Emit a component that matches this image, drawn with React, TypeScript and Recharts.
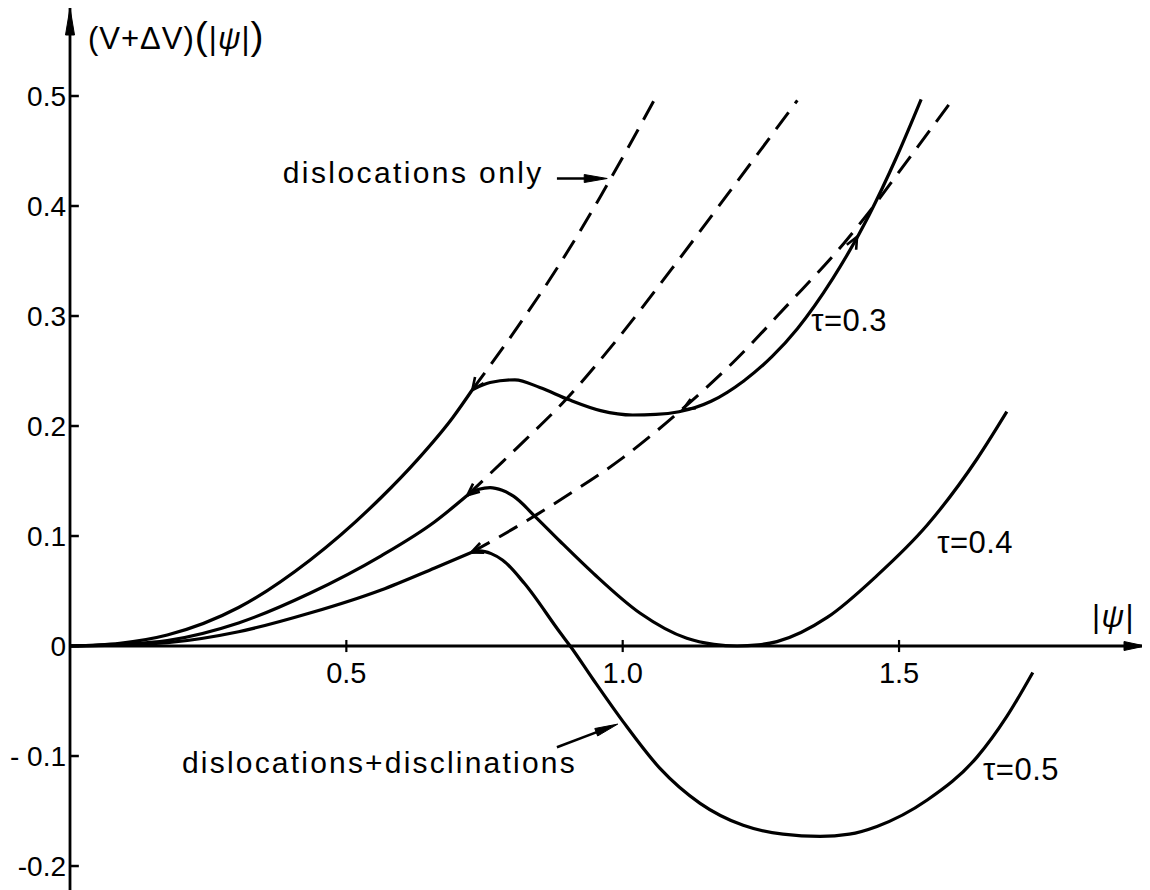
import React from 'react';
import { LineChart, Line, XAxis, YAxis, ReferenceLine, ReferenceDot } from 'recharts';

const FONT = '"Liberation Sans", Arial, Helvetica, sans-serif';

// |psi| axis and energy axis
const xDomain: [number, number] = [0, 1.945];
const yDomain: [number, number] = [-0.2218, 0.58];
const xTicks = [0.5, 1.0, 1.5];
const xTickLabels = ['0.5', '1.0', '1.5'];
const yTicks = [-0.2, -0.1, 0, 0.1, 0.2, 0.3, 0.4, 0.5];
const yTickLabels = ['-0.2', '- 0.1', '0', '0.1', '0.2', '0.3', '0.4', '0.5'];

type P = [number, number];

// tau = 0.3 : common branch, dislocations-only branch, dislocations + disclinations branch
const base03: P[] = [[0, 0], [0.09, 0.0025], [0.176, 0.01], [0.305, 0.035], [0.434, 0.078], [0.563, 0.135], [0.628, 0.169], [0.693, 0.208], [0.728, 0.233]];
const only03: P[] = [[0.728, 0.233], [0.814, 0.293], [0.887, 0.348], [0.959, 0.408], [1.013, 0.456], [1.06, 0.499]];
const with03: P[] = [[0.728, 0.233], [0.76, 0.2395], [0.805, 0.242], [0.85, 0.235], [0.902, 0.224], [0.96, 0.214], [1.018, 0.21], [1.06, 0.2105], [1.102, 0.213], [1.16, 0.2225], [1.219, 0.241], [1.27, 0.263], [1.316, 0.2885], [1.38, 0.334], [1.445, 0.391], [1.496, 0.445], [1.54, 0.497]];

// tau = 0.4
const base04: P[] = [[0, 0], [0.09, 0.0015], [0.176, 0.005], [0.305, 0.021], [0.434, 0.048], [0.563, 0.082], [0.66, 0.113], [0.719, 0.137]];
const only04: P[] = [[0.719, 0.137], [0.767, 0.16], [0.821, 0.186], [0.899, 0.225], [0.992, 0.28], [1.089, 0.343], [1.186, 0.408], [1.316, 0.496]];
const with04: P[] = [[0.719, 0.137], [0.74, 0.1425], [0.76, 0.144], [0.782, 0.1415], [0.803, 0.136], [0.843, 0.117], [0.887, 0.095], [0.947, 0.066], [1.031, 0.03], [1.116, 0.007], [1.165, 0.0015], [1.207, 0], [1.245, 0.001], [1.279, 0.004], [1.37, 0.026], [1.46, 0.064], [1.551, 0.11], [1.641, 0.17], [1.695, 0.213]];

// tau = 0.5
const base05: P[] = [[0, 0], [0.09, 0.001], [0.176, 0.003], [0.305, 0.013], [0.434, 0.03], [0.563, 0.051], [0.66, 0.071], [0.726, 0.085]];
const only05: P[] = [[0.726, 0.085], [0.8, 0.106], [0.843, 0.119], [0.9, 0.137], [1.0, 0.171], [1.1, 0.212], [1.2, 0.258], [1.3, 0.311], [1.4, 0.366], [1.445, 0.394], [1.5, 0.431], [1.59, 0.492]];
const with05: P[] = [[0.726, 0.085], [0.741, 0.0865], [0.762, 0.084], [0.783, 0.078], [0.822, 0.057], [0.887, 0.012], [0.905, 0], [0.946, -0.03], [1.001, -0.069], [1.067, -0.111], [1.14, -0.143], [1.218, -0.163], [1.29, -0.171], [1.357, -0.173], [1.41, -0.171], [1.46, -0.164], [1.551, -0.14], [1.641, -0.101], [1.695, -0.064], [1.742, -0.024]];

const solidCurves = [base03, with03, base04, with04, base05, with05];
const dashedCurves = [only03, only04, only05];

// direction markers along the branches: [x, y, heading in degrees]
const chevrons: [number, number, number][] = [
  [0.728, 0.233, 126],
  [0.719, 0.137, 140],
  [0.726, 0.085, 157],
  [1.109, 0.215, 150],
  [1.424, 0.372, -62],
];

// curve labels: [x, y, text]
const tauLabels: [number, number, string][] = [
  [1.341, 0.286, 'τ=0.3'],
  [1.569, 0.085, 'τ=0.4'],
  [1.652, -0.122, 'τ=0.5'],
];

const pts = (a: P[]) => a.map(([x, y]) => ({ x, y }));

const Arrowhead = ({ cx, cy, angle, len, half }: any) => {
  const a = (angle * Math.PI) / 180;
  const bx = cx - len * Math.cos(a);
  const by = cy - len * Math.sin(a);
  const px = -Math.sin(a) * half;
  const py = Math.cos(a) * half;
  return <path d={`M${cx},${cy} L${bx + px},${by + py} L${bx - px},${by - py} Z`} fill="#000" stroke="#000" strokeWidth={1} />;
};

const Chevron = ({ cx, cy, angle }: any) => {
  const back = ((angle + 180) * Math.PI) / 180;
  const s = 0.42;
  const L = 13;
  const x1 = cx + L * Math.cos(back + s);
  const y1 = cy + L * Math.sin(back + s);
  const x2 = cx + L * Math.cos(back - s);
  const y2 = cy + L * Math.sin(back - s);
  return <path d={`M${x1},${y1} L${cx},${cy} L${x2},${y2}`} fill="none" stroke="#000" strokeWidth={2.6} />;
};

const Note = ({ cx, cy, text, size = 30, anchor = 'start', spacing = 0 }: any) => (
  <text x={cx} y={cy} fontSize={size} fontFamily={FONT} textAnchor={anchor} letterSpacing={spacing} fill="#000">
    {text}
  </text>
);

const YTitle = ({ cx, cy }: any) => (
  <text x={cx} y={cy} fontSize={31} fontFamily={FONT} fill="#000" letterSpacing={1}>
    (V+ΔV)<tspan fontSize={39}>(</tspan>|<tspan fontStyle="italic">ψ</tspan>|<tspan fontSize={39}>)</tspan>
  </text>
);

const XTitle = ({ cx, cy }: any) => (
  <text x={cx} y={cy} fontSize={31} fontFamily={FONT} fill="#000" letterSpacing={1.5}>
    |<tspan fontStyle="italic">ψ</tspan>|
  </text>
);

export default function App() {
  return (
    <div style={{ background: '#fff' }}>
      <LineChart width={1142} height={882} margin={{ top: 0, right: 5, bottom: 0, left: 0 }}>
        <XAxis type="number" dataKey="x" domain={xDomain} hide allowDataOverflow />
        <YAxis
          type="number"
          domain={yDomain}
          ticks={yTicks}
          interval={0}
          width={62}
          allowDataOverflow
          axisLine={{ stroke: '#000', strokeWidth: 2.8 }}
          tickLine={false}
          tickSize={0}
          tickMargin={4}
          tick={{ fill: '#000', fontSize: 28, fontFamily: FONT }}
          tickFormatter={(v: number) => yTickLabels[yTicks.findIndex((t) => Math.abs(t - v) < 1e-9)] ?? ''}
        />

        {/* horizontal axis through the origin */}
        <ReferenceLine y={0} stroke="#000" strokeWidth={2.8} ifOverflow="visible" />

        {dashedCurves.map((d, i) => (
          <Line
            key={`d${i}`}
            data={pts(d)}
            dataKey="y"
            type="monotone"
            stroke="#000"
            strokeWidth={3}
            strokeDasharray="21 11"
            dot={false}
            activeDot={false}
            isAnimationActive={false}
          />
        ))}
        {solidCurves.map((d, i) => (
          <Line
            key={`s${i}`}
            data={pts(d)}
            dataKey="y"
            type="monotone"
            stroke="#000"
            strokeWidth={3.2}
            dot={false}
            activeDot={false}
            isAnimationActive={false}
          />
        ))}

        {/* tick marks */}
        {yTicks.map((v) => (
          <ReferenceLine key={`yt${v}`} segment={[{ x: 0, y: v }, { x: 0.016, y: v }]} stroke="#000" strokeWidth={2.5} ifOverflow="visible" />
        ))}
        {xTicks.map((v) => (
          <ReferenceLine key={`xt${v}`} segment={[{ x: v, y: -0.0055 }, { x: v, y: 0.0055 }]} stroke="#000" strokeWidth={2.2} ifOverflow="visible" />
        ))}
        {xTicks.map((v, i) => (
          <ReferenceDot
            key={`xl${v}`}
            x={v}
            y={-0.0336}
            r={0}
            ifOverflow="visible"
            shape={(p: any) => <Note cx={p.cx} cy={p.cy} text={xTickLabels[i]} size={29} anchor="middle" />}
          />
        ))}

        {/* axis arrows */}
        <ReferenceDot x={xDomain[1]} y={0} r={0} ifOverflow="visible" shape={(p: any) => <Arrowhead cx={p.cx} cy={p.cy} angle={0} len={21} half={4.5} />} />
        <ReferenceDot x={0} y={yDomain[1]} r={0} ifOverflow="visible" shape={(p: any) => <Arrowhead cx={p.cx} cy={p.cy} angle={-90} len={27} half={4.5} />} />

        {/* axis titles */}
        <ReferenceDot x={0.0326} y={0.5427} r={0} ifOverflow="visible" shape={(p: any) => <YTitle cx={p.cx} cy={p.cy} />} />
        <ReferenceDot x={1.849} y={0.0173} r={0} ifOverflow="visible" shape={(p: any) => <XTitle cx={p.cx} cy={p.cy} />} />

        {/* branch direction markers */}
        {chevrons.map(([x, y, a], i) => (
          <ReferenceDot key={`c${i}`} x={x} y={y} r={0} ifOverflow="visible" shape={(p: any) => <Chevron cx={p.cx} cy={p.cy} angle={a} />} />
        ))}

        {/* curve labels */}
        {tauLabels.map(([x, y, t]) => (
          <ReferenceDot key={t} x={x} y={y} r={0} ifOverflow="visible" shape={(p: any) => <Note cx={p.cx} cy={p.cy} text={t} size={31} spacing={0.5} />} />
        ))}

        {/* annotations with pointers */}
        <ReferenceDot x={0.385} y={0.4209} r={0} ifOverflow="visible" shape={(p: any) => <Note cx={p.cx} cy={p.cy} text="dislocations only" size={30} spacing={2.4} />} />
        <ReferenceLine segment={[{ x: 0.881, y: 0.425 }, { x: 0.95, y: 0.425 }]} stroke="#000" strokeWidth={2.5} ifOverflow="visible" />
        <ReferenceDot x={0.972} y={0.425} r={0} ifOverflow="visible" shape={(p: any) => <Arrowhead cx={p.cx} cy={p.cy} angle={0} len={23} half={4} />} />

        <ReferenceDot x={0.2026} y={-0.1155} r={0} ifOverflow="visible" shape={(p: any) => <Note cx={p.cx} cy={p.cy} text="dislocations+disclinations" size={30} spacing={2.2} />} />
        <ReferenceLine segment={[{ x: 0.881, y: -0.092 }, { x: 0.965, y: -0.076 }]} stroke="#000" strokeWidth={2.5} ifOverflow="visible" />
        <ReferenceDot x={0.991} y={-0.071} r={0} ifOverflow="visible" shape={(p: any) => <Arrowhead cx={p.cx} cy={p.cy} angle={-20.7} len={23} half={4} />} />
      </LineChart>
    </div>
  );
}
